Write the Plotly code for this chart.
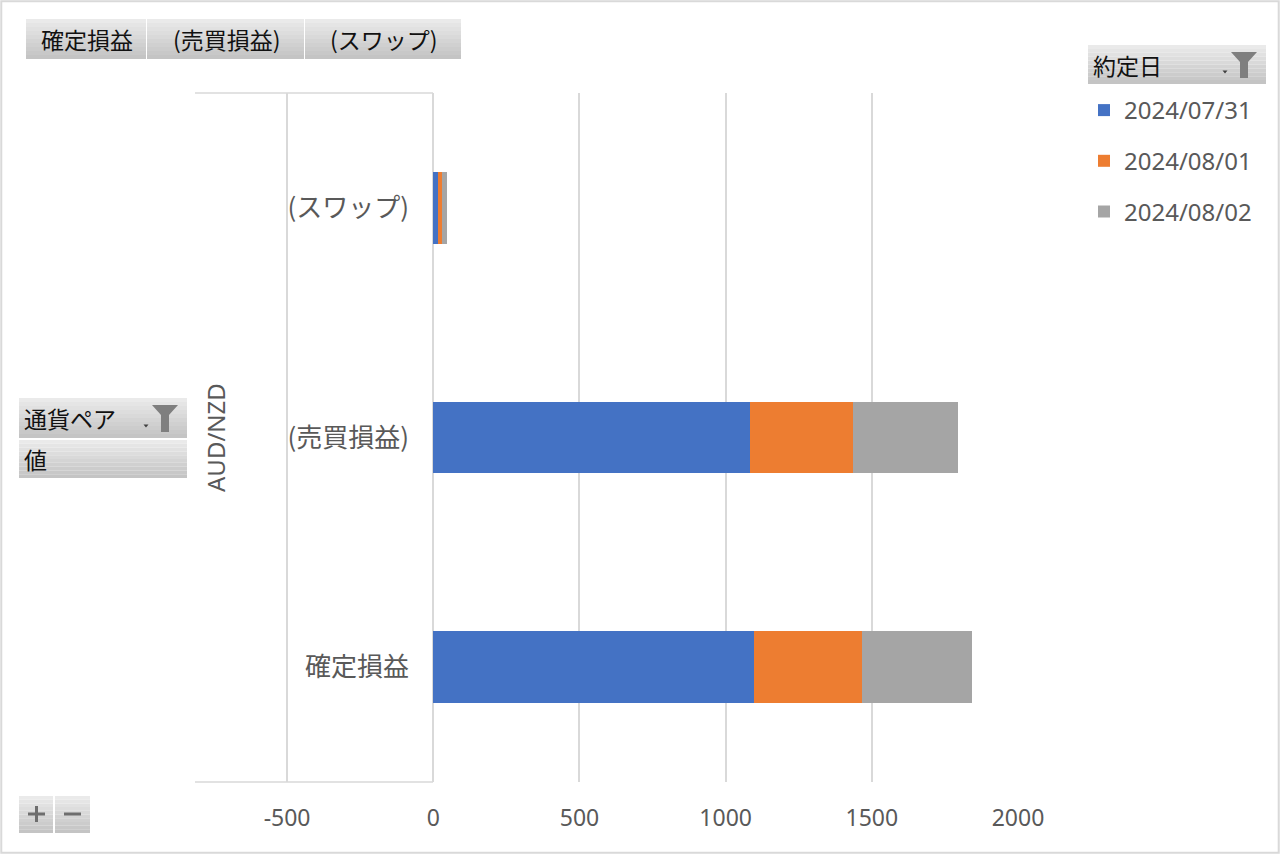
import plotly.graph_objects as go

categories = ["確定損益", "(売買損益)", "(スワップ)"]
dates = ["2024/07/31", "2024/08/01", "2024/08/02"]
values_0731 = [1097, 1082, 15]
values_0801 = [370, 355, 15]
values_0802 = [374, 357, 17]
colors = ["#4472C4", "#ED7D31", "#A5A5A5"]
x_ticks = [-500, 0, 500, 1000, 1500, 2000]
x_tick_text = ["-500", "0", "500", "1000", "1500", "2000"]
field_buttons = ["確定損益", "(売買損益)", "(スワップ)"]

W, H = 1280, 854


def px(x):
    return x / W


def py(y):
    return 1 - y / H


fig = go.Figure()
for i, (d, vals) in enumerate(zip(dates, [values_0731, values_0801, values_0802])):
    fig.add_trace(go.Bar(
        y=categories,
        x=vals,
        orientation="h",
        name=d,
        marker=dict(color=colors[i], line=dict(width=0)),
        legendgroup=d,
    ))

shapes = []
annotations = []


def button(x0, y0, x1, y1, label, icon=False, center=False, size=23):
    # grey gradient like an Excel pivot field button
    steps = 10
    top, bot = (234, 234, 234), (196, 196, 196)
    for s in range(steps):
        t = s / (steps - 1)
        c = tuple(int(top[k] + (bot[k] - top[k]) * t) for k in range(3))
        ya = y0 + (y1 - y0) * s / steps
        yb = y0 + (y1 - y0) * (s + 1) / steps
        shapes.append(dict(type="rect", xref="paper", yref="paper",
                           x0=px(x0), x1=px(x1), y0=py(yb), y1=py(ya),
                           fillcolor="rgb(%d,%d,%d)" % c, line=dict(width=0), layer="above"))
    if label:
        annotations.append(dict(text=label, xref="paper", yref="paper",
                                x=px((x0 + x1) / 2 + 1) if center else px(x0 + 3),
                                y=py((y0 + y1) / 2),
                                xanchor="center" if center else "left", yanchor="middle",
                                showarrow=False, font=dict(size=size, color="#111111",
                                                           family="Noto Sans CJK JP")))
    if icon:
        fx = x1 - 22
        fy0, fy1 = y0 + 7, y1 - 6
        path = "M %f,%f L %f,%f L %f,%f L %f,%f L %f,%f L %f,%f Z" % (
            px(fx - 13), py(fy0), px(fx + 13), py(fy0),
            px(fx + 4), py(fy0 + 10), px(fx + 4), py(fy1),
            px(fx - 4), py(fy1), px(fx - 4), py(fy0 + 10))
        shapes.append(dict(type="path", xref="paper", yref="paper", path=path,
                           fillcolor="#7f7f7f", line=dict(width=0), layer="above"))
        dx, dy = fx - 19, y1 - 12
        tri = "M %f,%f L %f,%f L %f,%f Z" % (px(dx - 2.5), py(dy - 1.5), px(dx + 2.5), py(dy - 1.5),
                                             px(dx), py(dy + 1.5))
        shapes.append(dict(type="path", xref="paper", yref="paper", path=tri,
                           fillcolor="#404040", line=dict(width=0), layer="above"))


# top field buttons
button(26, 19, 146, 59, field_buttons[0], center=True)
button(147, 19, 304, 59, field_buttons[1], center=True)
button(305, 19, 461, 59, field_buttons[2], center=True)
# legend header
button(1088, 45, 1266, 84, "約定日", icon=True)
# axis field buttons
button(19, 398, 187, 438, "通貨ペア", icon=True)
button(19, 440, 187, 478, "値")
# +/- buttons
button(19, 796, 53, 833, "")
button(55, 796, 90, 833, "")
for seg in [(28, 814, 45, 814), (36.5, 806, 36.5, 822), (64, 814, 81, 814)]:
    shapes.append(dict(type="line", xref="paper", yref="paper",
                       x0=px(seg[0]), y0=py(seg[1]), x1=px(seg[2]), y1=py(seg[3]),
                       line=dict(color="#6e6e6e", width=3), layer="above"))

# multi-level category axis frame lines
for yy in (93, 782):
    shapes.append(dict(type="line", xref="paper", yref="paper",
                       x0=px(195), x1=px(433), y0=py(yy), y1=py(yy),
                       line=dict(color="#d9d9d9", width=1.5)))
annotations.append(dict(text="AUD/NZD", xref="paper", yref="paper", x=px(215), y=py(438),
                        xanchor="center", yanchor="middle",
                        textangle=-90, showarrow=False,
                        font=dict(size=24, color="#595959", family="Noto Sans")))

# outer border
shapes.append(dict(type="rect", xref="paper", yref="paper", x0=0.001, x1=0.999, y0=0.0015, y1=0.9985,
                   line=dict(color="#d9d9d9", width=2), fillcolor="rgba(0,0,0,0)"))

fig.update_layout(
    width=W, height=H,
    margin=dict(l=0, r=0, t=0, b=0, autoexpand=False),
    paper_bgcolor="white",
    plot_bgcolor="white",
    barmode="stack",
    bargap=0.687,
    font=dict(family="Noto Sans CJK JP", color="#595959"),
    xaxis=dict(
        domain=[px(195), px(1018)],
        range=[-815, 2000],
        tickvals=x_ticks,
        ticktext=x_tick_text,
        showgrid=True, gridcolor="#d9d9d9", gridwidth=1.5,
        zeroline=False, showline=False, ticks="",
        tickfont=dict(size=23, color="#595959", family="Noto Sans"),
        ticklabelstandoff=20,
        automargin=False,
        fixedrange=True,
    ),
    yaxis=dict(
        domain=[py(782), py(93)],
        anchor="free", position=px(433),
        showgrid=False, zeroline=False, showline=False, ticks="",
        tickfont=dict(size=26, color="#595959", family="Noto Sans CJK JP"),
        ticklabelstandoff=24,
        automargin=False,
        fixedrange=True,
    ),
    legend=dict(
        x=px(1084), y=py(88), xanchor="left", yanchor="top",
        traceorder="grouped", tracegroupgap=16.5,
        font=dict(size=24, color="#595959", family="Noto Sans"),
        bgcolor="rgba(0,0,0,0)",
    ),
    shapes=shapes,
    annotations=annotations,
)

fig.write_html("out.html", config={"displayModeBar": False},
               post_script="document.body.style.margin='0';document.body.style.overflow='hidden';")
